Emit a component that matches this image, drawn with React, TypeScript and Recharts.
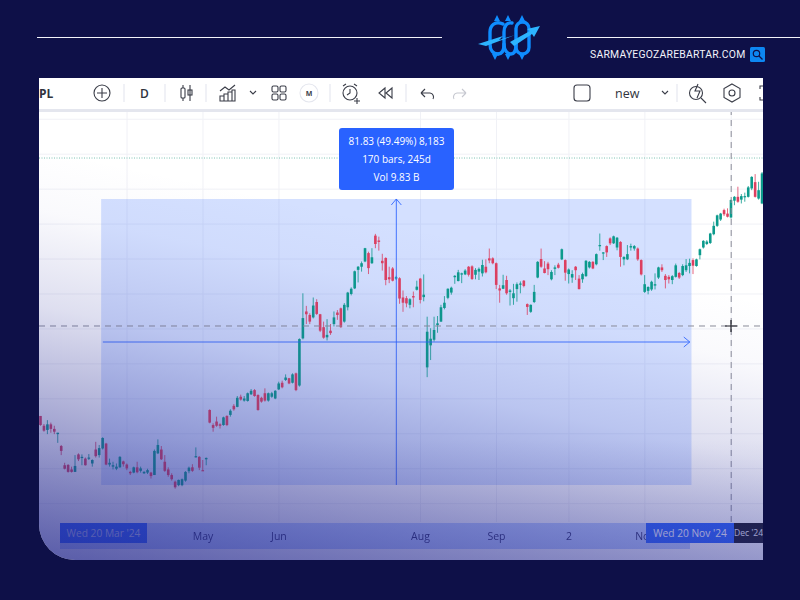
import React from 'react';
import { ComposedChart, Bar, XAxis, YAxis, CartesianGrid, ReferenceArea, ReferenceLine } from 'recharts';

// daily candles, one slot per bar
const opens = [
  185.1,182.3,181.1,182.7,181.4,179.9,176.5,171,171.1,169.8,
  169.1,174.1,173.1,172.9,172.9,171.5,175.5,173.9,175.8,177.2,
  171.2,170.6,170,170.4,172.1,171.2,169.1,168.9,170.4,169.4,
  168.7,168.9,168.9,168.2,174.4,175.5,172,169.8,168.2,166.3,
  165.3,165.3,166.6,169.3,170.4,173.3,173.4,169.6,172.7,186.8,
  182.5,183.5,182.7,182.5,185.1,185.4,188,187.7,190.6,189.5,
  189.4,191.3,192.5,191.1,190.3,191.6,189.5,190.6,190.1,192.7,
  194.6,195.4,195.9,194.6,197.3,193.8,207.3,215,214,213.3,
  217.7,214.2,210.5,207.6,209.5,211.4,214.7,215.9,212.1,216.2,
  220,221.6,226.9,227.8,229.3,231.7,228.8,236.7,235.3,229.5,
  230.3,224.8,227.3,224.4,224.5,219,218.8,216.9,219.4,221.2,
  224.4,219.1,199,205.3,206.9,211.1,212.1,216,218.9,220.4,
  224.8,223.7,225.6,225.6,227.8,227.9,225.5,226.4,225.9,227.8,
  230.2,230.2,228.8,221.6,221.5,224,220.6,218.8,221.4,222.7,
  223.8,217.1,214.9,217.7,224.7,230,227.3,228.7,224.2,227.2,
  228.4,229.9,229.7,225.7,224.7,227.8,224.4,224.2,225.1,227.6,
  229.2,228.5,233.7,231.7,233.7,235.9,234.5,233.3,234.9,229.9,
  229.9,233.3,233,233,229.7,220.6,220.9,221.3,222.4,224.7,
  227.6,225.2,224.9,224,224.9,226,225.4,226.8,228,229.7,
  228,231.1,233.3,234.3,234.6,237.1,239.5,241.3,244,243,
  241.9,246.7,247.8,247,247.8,247.8,250.2,252,247.3,245.9,
];
const highs = [
  185.1,182.8,183.9,183.2,182.3,180.3,176.8,171.7,171.3,170.6,
  173.9,174.4,174.1,173.2,174.2,172.7,177.7,176.8,179,177.4,
  172.9,172,171.5,173.6,172.3,171.5,169.4,170.6,172,170.6,
  169.3,170,169.1,175.5,178.4,176.5,173.9,170.4,168.7,166.6,
  166.9,167.2,169.3,170.6,171.3,176.1,173.6,172.5,173.2,187,
  183,184.9,183,184.9,185.3,187,188.5,190.8,191.2,190.8,
  191.8,192.8,192.8,191.3,190.6,193,191.8,192,192.5,194.9,
  195.2,197,196,197.3,197.5,207.3,220.2,216.6,214.5,219,
  218.5,214.3,212.1,212.8,211.4,215,215.4,216.1,217.4,220.6,
  221.9,226.7,228,229.3,233.2,232.1,233.1,237.2,236.4,231.5,
  230.5,227.8,227.7,225.2,224.8,221,219.4,218.8,220.7,223.8,
  224.6,225.6,213.5,210.2,213.5,213.7,216.9,219.4,221.6,222.1,
  225.4,226.9,226.1,227.1,228,228.2,227.4,227.6,229.8,229.9,
  233,230.5,229,222.6,225.5,225.2,221.4,222.9,223.3,223.6,
  224,217.3,217,222.6,229.4,233,229.4,229.2,226.8,228.2,
  228.9,233,229.9,227.3,226.8,228,225.4,226.1,229.7,229.4,
  229.4,231.6,237.3,232,233.9,236.2,236.7,236.3,235.1,230.8,
  234,234.4,234,233.3,229.9,225.4,222.2,223.8,225.9,227.8,
  228.5,225.7,225.4,225.4,228.7,226.3,228.5,230,230.1,230.2,
  230.1,233,235.4,235.4,237.5,240.7,242.7,243.2,244.4,244.5,
  247,248,250.7,248.6,249,250.9,253.7,254.3,252.1,254.9,
];
const lows = [
  182.3,180.6,179.9,180.3,179.9,177.4,173.9,169.8,168.9,168.9,
  169.1,172.2,171,170.9,172.5,170.6,173.2,173.2,175.5,171,
  170.6,169.8,169.6,170.3,170.6,169.6,168.2,168.7,168.7,168.9,
  168.5,168.5,167.2,168.2,174.2,172.5,169.1,167.7,166.6,164.3,
  165,165,166.3,168.7,169.1,173.2,169.6,169.4,171,183,
  180.6,182,181.5,182.3,182.2,184.9,186.6,187.6,189.5,189.2,
  189.2,191.1,190.6,186.6,188.9,189.2,189.2,190.3,189.9,192.5,
  193,195.1,194.2,194.4,192.2,193.5,207,211.4,211.4,213,
  214,209.1,207.2,206.7,208.3,210.7,212.6,210.3,211.8,215.3,
  219.6,221.4,223.3,226.4,229.1,225.7,228.6,233.1,232.4,226.7,
  222.5,223.1,223.6,224,217.2,214.9,216.2,215.9,216.2,221,
  217.3,217.9,196.2,201.1,206.4,208.9,212,215.6,218.5,219.8,
  222.9,223.6,223.1,225.4,225,224,224.2,224,225,225.9,
  228.8,228.5,221.4,217.5,221.4,219.8,216.7,216.9,217.8,220.2,
  221.9,214,214.6,217.4,224.5,227.5,225.9,225.4,223.9,225.4,
  227.3,229.7,223.8,223,223.2,224,221.3,223.2,224.9,227.3,
  227.1,228.2,232.4,229.7,230.6,234,234.3,232.5,227.8,228.2,
  229.7,232.4,232.4,229.5,225.3,220.3,219.9,220.9,221.3,224.3,
  226.3,221.6,223,222.8,224.7,224.3,225.1,226.3,225.9,225.7,
  227.8,229.9,233,234,234.3,236.8,239.2,240.9,242.3,241.9,
  241.6,245.4,246.1,245.9,246.4,247.6,249.7,247.6,247,245.7,
];
const closes = [
  182.5,180.9,182.7,181.4,180.6,180.3,175.1,170,169.1,169.1,
  170.8,172.7,173.4,171,173.2,172.5,173.6,175.9,178.8,171.2,
  171.7,171,170.6,173.4,171.3,170.1,168.7,170.4,169,170.1,
  169.1,169.6,167.9,175.1,176.8,172.7,169.4,168.2,167,164.7,
  166.8,167,169.1,170.3,169.4,173.6,170.3,169.3,173.1,183.2,
  181.7,182.3,182.3,184.7,182.5,186.6,187,190.3,189.8,190.1,
  191.6,192.3,190.8,186.8,189.2,189.5,191.6,191.6,192.3,194.4,
  193.3,196.1,194.4,197,192.5,207.1,213.1,214.2,212.1,216.7,
  214.3,209.5,207.5,208.3,208.8,213.3,214,210.5,216.9,220.4,
  221.5,226.5,227.8,228.8,233.1,227.4,230.5,234.3,234.9,228.8,
  224,224.2,223.8,224.8,218.7,217.5,217.3,218.5,219,222.1,
  218.3,219.8,209.2,207.2,209.7,211.6,216.2,217.5,221.5,221.8,
  225.2,226.2,225.9,226.7,225.5,224.3,226.9,227.2,228.3,226.2,
  229.6,228.8,222.6,221,222.5,220.2,221,220.2,222.8,223,
  222.3,216.3,216.9,220.6,229.2,227.8,226,227.1,226.3,227.6,
  227.5,232.8,226.1,227,225.7,226.8,221.4,225.7,229.5,229.2,
  227.3,231.4,234,231.9,231.9,234.5,236.5,236.1,230.6,230.6,
  231.4,233.7,233.7,229.9,225.6,222.8,222,223.5,222.8,227.6,
  226.8,224,224.2,225.1,228.2,224.7,228,228.2,228.9,228.1,
  229.9,232.8,235.2,235,237.3,239.5,242.5,243,242.8,242.1,
  246.9,247.8,246.4,248,248,250.5,253.5,247.8,249.7,254.5,
];

const tickSlots = [47, 69, 110, 132, 153, 175];
const tickLabels = ['May', 'Jun', 'Aug', 'Sep', '2', 'Nov'];
const gridSlots = [25, 47, 69, 110, 132, 153, 175, 200];
const gridPrices = [160, 170, 180, 190, 200, 210, 220, 230, 240, 250, 260, 270];

// measuring tool
const rangeStartSlot = 18;
const rangeEndSlot = 188;
const rangeMidSlot = 103;
const rangeLow = 165.35;
const rangeHigh = 247.18;
const rangeMid = 206.26;
const crosshairSlot = 200;
const crosshairPrice = 210.84;
const lastPrice = 258.9;

const UP = '#0b9a8c';
const DOWN = '#dd3f60';
const ACCENT = '#2962ff';
const NAVY = '#0e1048';

const candles = opens.map((open, i) => ({
  slot: i, open, close: closes[i], high: highs[i], low: lows[i],
  range: [lows[i], highs[i]],
}));

const Candle = (props: any) => {
  const { x, y, width, height, payload } = props;
  const perUnit = height / (payload.high - payload.low || 1);
  const top = y + (payload.high - Math.max(payload.open, payload.close)) * perUnit;
  const bottom = y + (payload.high - Math.min(payload.open, payload.close)) * perUnit;
  const cx = x + width / 2;
  const color = payload.close >= payload.open ? UP : DOWN;
  return (
    <g>
      <line x1={cx} x2={cx} y1={y} y2={y + height} stroke={color} strokeWidth={1} strokeOpacity={0.8} />
      <rect x={cx - 1.3} y={top} width={2.6} height={Math.max(bottom - top, 1.2)} fill={color} />
    </g>
  );
};

const ArrowH = (props: any) => {
  const { x1, y1, x2, y2 } = props;
  return (
    <g fill="none" stroke={ACCENT} strokeOpacity={0.85} strokeWidth={1}>
      <line x1={x1} y1={y1} x2={x2} y2={y2} />
      <path d={`M${x2 - 6} ${y2 - 5} L${x2} ${y2} L${x2 - 6} ${y2 + 5}`} />
    </g>
  );
};

const ArrowV = (props: any) => {
  const { x1, y1, x2, y2 } = props;
  const topY = Math.min(y1, y2);
  return (
    <g fill="none" stroke={ACCENT} strokeOpacity={0.85} strokeWidth={1}>
      <line x1={x1} y1={y1} x2={x2} y2={y2} />
      <path d={`M${x1 - 5} ${topY + 6} L${x1} ${topY} L${x1 + 5} ${topY + 6}`} />
    </g>
  );
};

const font = '"Open Sans", sans-serif';

const TimeBox = ({ left, width, bg, color, size, children }: any) => (
  <div style={{
    position: 'absolute', left, top: 445, width, height: 20, background: bg, color,
    fontSize: size, lineHeight: '20px', textAlign: 'center', whiteSpace: 'nowrap', overflow: 'hidden', fontFamily: font,
  }}>{children}</div>
);

export default function App() {
  return (
    <div style={{ position: 'absolute', left: 0, top: 0, width: 800, height: 600, background: NAVY, overflow: 'hidden' }}>
      {/* header */}
      <div style={{ position: 'absolute', left: 37, top: 37, width: 405, height: 1, background: '#f2f3fa' }} />
      <div style={{ position: 'absolute', left: 567, top: 37, width: 233, height: 1, background: '#f2f3fa' }} />
      <div style={{ position: 'absolute', left: 590, top: 47, color: '#f2f3fa', fontSize: 10.4, lineHeight: '15px', letterSpacing: 0.22, fontFamily: 'Roboto, sans-serif', whiteSpace: 'nowrap' }}>
        SARMAYEGOZAREBARTAR.COM
      </div>

      {/* screenshot panel */}
      <div style={{ position: 'absolute', left: 39, top: 78, width: 724, height: 482, background: '#fff', overflow: 'hidden', borderBottomLeftRadius: 36 }}>
        <div style={{ position: 'absolute', left: 21, top: 445, width: 630, height: 26, background: 'rgba(41,98,255,0.3)' }} />
        <div style={{ position: 'absolute', left: 0, top: 0, filter: 'blur(0.35px)' }}>
          <ComposedChart
            width={726}
            height={482}
            data={candles}
            margin={{ top: 34, right: 1, left: 0, bottom: 12 }}
            barCategoryGap={0}
          >
            <CartesianGrid stroke="#f0f1f6" strokeWidth={1} horizontalValues={gridPrices} verticalValues={gridSlots} />
            <XAxis
              dataKey="slot"
              height={26}
              ticks={tickSlots}
              interval={0}
              axisLine={false}
              tickLine={false}
              tickMargin={5}
              tick={{ fontSize: 10.5, fill: '#2a2e66', fontFamily: font }}
              tickFormatter={(slot: number) => tickLabels[tickSlots.indexOf(slot)]}
            />
            <YAxis hide domain={[154.76, 272.07]} allowDataOverflow />
            <ReferenceArea x1={rangeStartSlot} x2={rangeEndSlot} y1={rangeLow} y2={rangeHigh} fill={ACCENT} fillOpacity={0.2} stroke="none" />
            <ReferenceLine y={lastPrice} stroke="#7fc4b4" strokeWidth={1} strokeDasharray="1 1.5" />
            <ReferenceLine y={crosshairPrice} stroke="#8b8d99" strokeWidth={1} strokeDasharray="6 5" />
            <ReferenceLine x={crosshairSlot} stroke="#8b8d99" strokeWidth={1} strokeDasharray="6 5" />
            <ReferenceLine
              segment={[{ x: rangeStartSlot, y: rangeMid }, { x: rangeEndSlot, y: rangeMid }]}
              shape={ArrowH}
            />
            <ReferenceLine
              segment={[{ x: rangeMidSlot, y: rangeLow }, { x: rangeMidSlot, y: rangeHigh }]}
              shape={ArrowV}
            />
            <Bar dataKey="range" shape={Candle} isAnimationActive={false} />
          </ComposedChart>
        </div>

        {/* toolbar */}
        <div style={{ position: 'absolute', left: 0, top: 0, width: 724, height: 31, background: '#fff', borderBottom: '3px solid #e4e6ee', fontFamily: font, color: '#30333d' }}>
          <div style={{ position: 'absolute', left: 0, top: 7, fontSize: 12, fontWeight: 700 }}>PL</div>
          <div style={{ position: 'absolute', left: 101, top: 7, fontSize: 12, fontWeight: 600 }}>D</div>
          <div style={{ position: 'absolute', left: 576, top: 7, fontSize: 12.5, fontWeight: 400 }}>new</div>
        </div>

        <TimeBox left={21} width={87} bg={ACCENT} size={10.2} color="#c6d0f5">Wed 20 Mar '24</TimeBox>
        <TimeBox left={607} width={88} bg={ACCENT} size={10.2} color="#fff">Wed 20 Nov '24</TimeBox>
        <TimeBox left={695} width={29} bg="#14151f" size={8.6} color="#f2f3fa">Dec '24</TimeBox>

        {/* measurement label */}
        <div style={{
          position: 'absolute', left: 300, top: 50, width: 115, height: 62, borderRadius: 3, background: ACCENT, color: '#fff',
          fontSize: 10, lineHeight: '18px', textAlign: 'center', paddingTop: 4, boxSizing: 'border-box', fontFamily: font,
        }}>
          <div>81.83 (49.49%) 8,183</div>
          <div>170 bars, 245d</div>
          <div>Vol 9.83 B</div>
        </div>

        {/* navy wash across the screenshot */}
        <div style={{
          position: 'absolute', left: 0, top: 0, width: 724, height: 482, pointerEvents: 'none',
          background: 'linear-gradient(12deg, rgba(34,38,140,0.7) 0%, rgba(44,48,150,0.46) 20%, rgba(60,64,165,0.17) 40%, rgba(80,84,180,0.03) 55%, rgba(80,84,180,0) 65%), linear-gradient(0deg, rgba(50,54,150,0.18) 0%, rgba(50,54,150,0) 25%)',
        }} />
      </div>

      {/* icons, logo, cursor */}
      <svg width={800} height={600} style={{ position: 'absolute', left: 0, top: 0, pointerEvents: 'none' }}>
        <g fill="none" stroke="#3a3d48" strokeWidth={1.1}>
          <circle cx={102} cy={93} r={8} />
          <path d="M102 88v10M97 93h10" />
          <path d="M124 84v18M165 84v18M206 84v18M330 84v18M406 84v18M677 84v18" stroke="#e4e6ee" />
          <rect x={181} y={88} width={4} height={10} rx={1} />
          <path d="M183 85v3M183 98v3M190 85v16" />
          <rect x={188} y={90} width={4} height={5} />
          <path d="M220 91l5-4 4 3 6-5" />
          <path d="M220 101v-5h4v5zM224 101v-7h4v7zM228 101v-9h4v9zM232 101v-11h3v11z" />
          <path d="M250 91l3 3 3-3" />
          <rect x={272} y={86} width={6} height={6} rx={1.5} />
          <rect x={280} y={86} width={6} height={6} rx={1.5} />
          <rect x={272} y={94} width={6} height={6} rx={1.5} />
          <rect x={280} y={94} width={6} height={6} rx={1.5} />
          <circle cx={309} cy={93} r={9} stroke="#e4e6ee" />
          <circle cx={350} cy={93} r={7} />
          <path d="M350 89v4l-3 2M343 86l3-2M357 86l-3-2M357 98v6M354 101h6" />
          <path d="M385 88l-6 5 6 5zM392 88l-6 5 6 5z" />
          <path d="M421 93h9a4 4 0 0 1 3 6M421 93l4-4M421 93l4 4" />
          <path d="M466 93h-9a4 4 0 0 0-3 6M466 93l-4-4M466 93l-4 4" stroke="#c6c8d0" />
          <rect x={574} y={85} width={16} height={16} rx={3} />
          <path d="M662 91l3 3 3-3" />
          <circle cx={696} cy={93} r={6.5} />
          <path d="M701 98l5 5M698 84l-3 7h5l-3 7" />
          <path d="M732 84l8 4.5v9l-8 4.5-8-4.5v-9z" />
          <circle cx={732} cy={93} r={3} />
          <path d="M763 86h-3v3M763 100h-3v-3" />
        </g>
        <text x={309} y={96} fontSize={7} fontWeight={700} textAnchor="middle" fill="#3a3d48" fontFamily={font}>M</text>
        <path d="M731 320v12M725 326h12" stroke="#1c1d26" strokeWidth={1.2} />

        {/* logo */}
        <g fill="none" stroke="#0f8dff" strokeWidth={3.4} strokeLinecap="round">
          <path d="M503 24C495 20 490 26 490 32V44C490 50 493 54 498 54" />
          <path d="M498 54C503 54 504 50 504 44V32C504 26 507 22 512 23" />
          <path d="M504 44C504 50 507 54 511 54C515 54 516 50 516 44" />
          <rect x={516} y={22} width={13} height={32} rx={6.5} />
        </g>
        <path d="M497 15l3 6h-6zM508 15l3 6h-6zM522 15l3 6h-6zM495 60l-3-6h6zM508 60l-3-6h6zM522 60l-3-6h6z" fill="#0f8dff" />
        <path d="M478 44L503 36L499 40L515 35L486 46ZM510 42L530 31L527 29L540 26L534 37L532 34L514 46Z" fill="#2db4ff" />

        {/* search badge */}
        <rect x={750} y={47} width={15} height={15} rx={1.5} fill="#0d87f2" />
        <circle cx={756.5} cy={53.5} r={3.2} fill="none" stroke="#0e1048" strokeWidth={1.2} />
        <path d="M759 56l3.5 3.5" stroke="#0e1048" strokeWidth={1.2} />
      </svg>
    </div>
  );
}
